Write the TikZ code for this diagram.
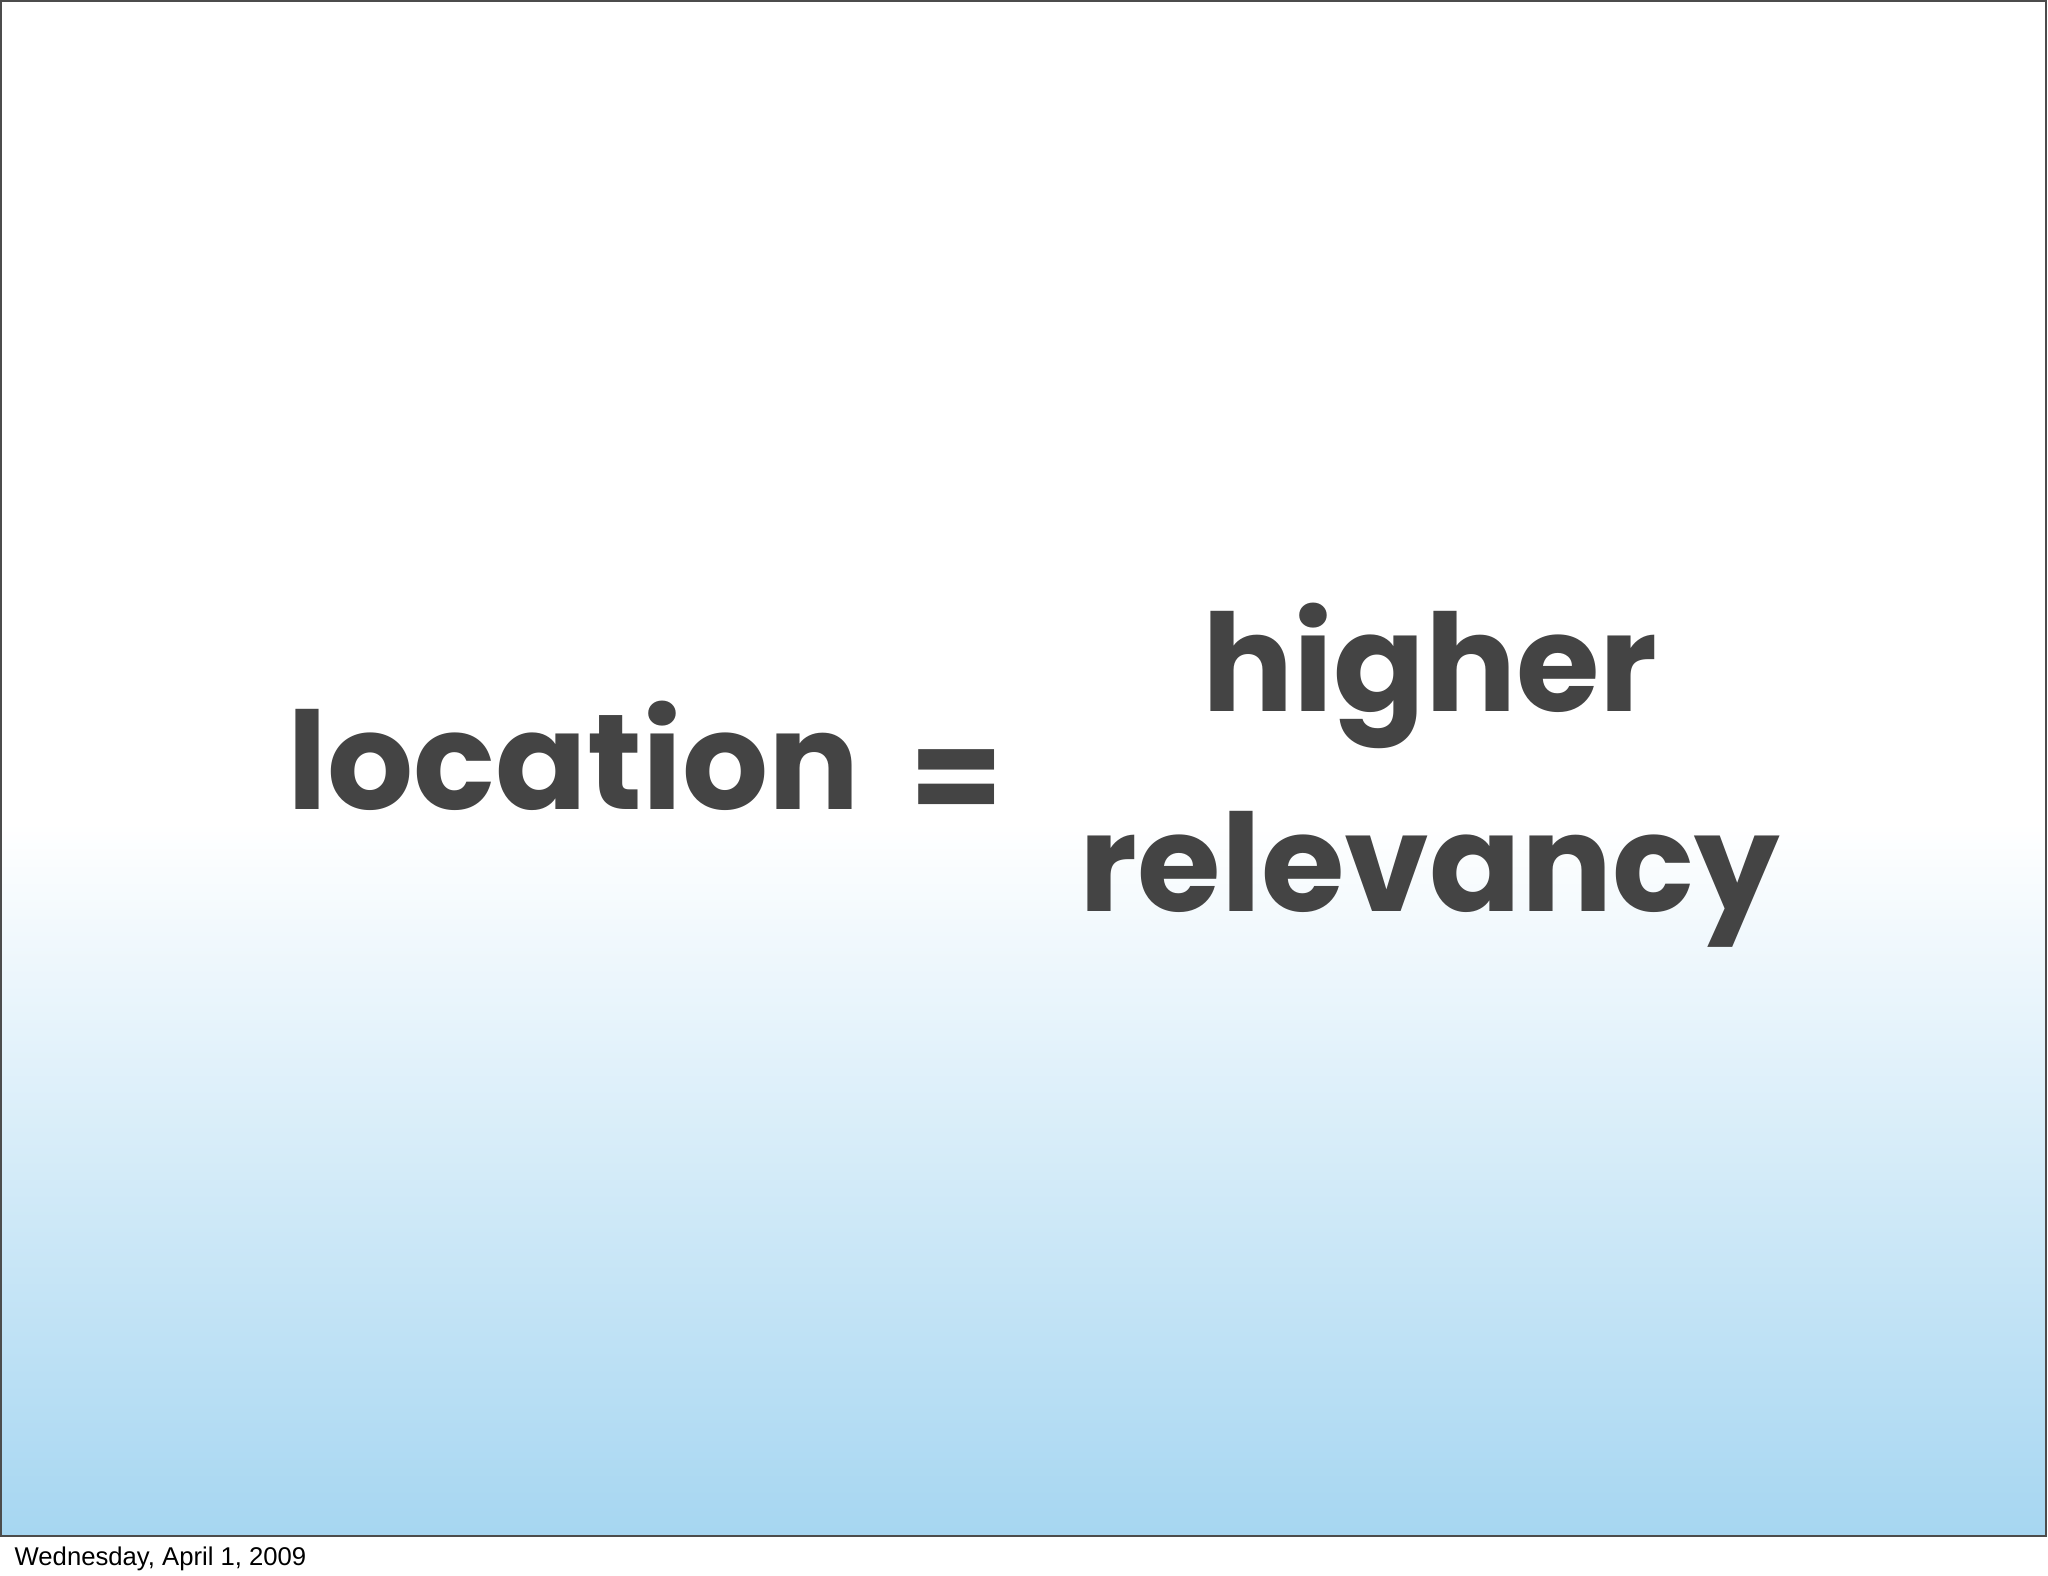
\documentclass[tikz,border=0pt]{standalone}
\usepackage{fontspec}
\setmainfont{Poppins}
\newfontfamily\footfont{Liberation Sans}
\definecolor{txt}{HTML}{444444}
\definecolor{sky}{HTML}{A6D6F1}
\begin{document}
\begin{tikzpicture}[x=0.01cm,y=0.01cm,
  big/.style={font=\fontsize{38.5}{46}\selectfont\bfseries, text=txt, inner sep=0pt}]
\useasboundingbox (0,0) rectangle (2048,1576);
\fill[white] (0,0) rectangle (2048,1576);
\shade[top color=white, bottom color=sky] (1,40) rectangle (2046,753);
\draw[black!70, line width=0.6pt] (1,40) rectangle (2046,1575);
\node[big, anchor=base west] (loc) at (287,766) {location};
\node[big] (eq) at (957,789) {=};
\node[big, anchor=base] (hi) at (1430,864) {higher};
\node[big, anchor=base] (rel) at (1430,664) {relevancy};
\node[anchor=base west, inner sep=0pt, font=\footfont\fontsize{7.3}{9}\selectfont] (foot) at (14,10) {Wednesday, April 1, 2009};
\end{tikzpicture}
\end{document}
